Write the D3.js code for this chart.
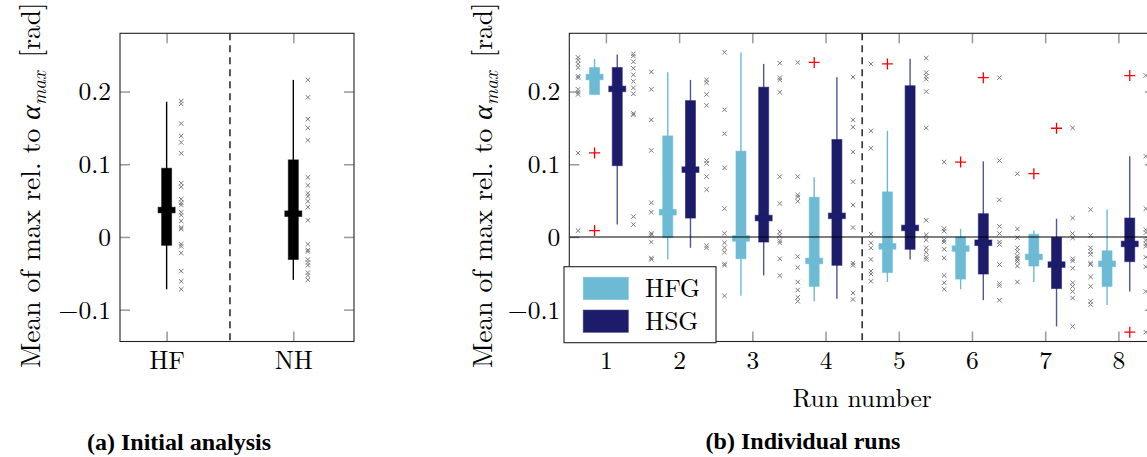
<!DOCTYPE html>
<html><head><meta charset="utf-8">
<script src="https://cdn.jsdelivr.net/npm/d3@7"></script>
<style>body{margin:0;background:#fff;}</style></head>
<body><svg id="c" width="1147" height="457"></svg>
<script>
// ---------- data: left panel ----------
const groups = ["HF", "NH"];
const groupLow  = [-0.072, -0.059];
const groupQ1   = [-0.0115, -0.031];
const groupMed  = [0.037, 0.032];
const groupQ3   = [0.0945, 0.106];
const groupHigh = [0.186, 0.216];
const groupPoints = [
  [0.187,0.183,0.156,0.139,0.130,0.115,0.074,0.069,0.052,0.047,0.044,0.034,0.030,0.022,0.013,0.011,-0.010,-0.013,-0.022,-0.047,-0.061,-0.072],
  [0.216,0.192,0.162,0.150,0.133,0.082,0.071,0.060,0.056,0.049,0.041,0.023,-0.010,-0.018,-0.020,-0.031,-0.035,-0.039,-0.049,-0.053,-0.059]
];
// ---------- data: right panel ----------
const runs = [1,2,3,4,5,6,7,8];
const hfgLow  = [0.195,-0.031,-0.081,-0.0885,-0.062,-0.072,-0.062,-0.0935];
const hfgQ1   = [0.196,-0.001,-0.030,-0.068,-0.049,-0.058,-0.040,-0.068];
const hfgMed  = [0.220,0.034,-0.002,-0.033,-0.013,-0.016,-0.0275,-0.037];
const hfgQ3   = [0.233,0.139,0.118,0.0546,0.062,0.0,0.0037,-0.019];
const hfgHigh = [0.245,0.2265,0.254,0.082,0.146,0.011,0.009,0.0376];
const hfgOutliers = [[0.1155,0.0087],[],[],[0.240],[0.238],[0.103],[0.087],[]];
const hfgPoints = [
  [0.247,0.243,0.238,0.233,0.221,0.219,0.203,0.199,0.196,0.1155,0.0087],
  [0.227,0.203,0.161,0.119,0.047,0.034,0.005,0.003,-0.007,-0.029,-0.031],
  [0.254,0.175,0.142,0.095,0.039,0.005,-0.008,-0.015,-0.021,-0.037,-0.039,-0.081],
  [0.240,0.083,0.058,0.055,0.049,-0.027,-0.042,-0.062,-0.073,-0.083,-0.0885],
  [0.238,0.146,0.122,0.004,-0.008,-0.015,-0.031,-0.047,-0.051,-0.061],
  [0.103,0.0115,0.008,-0.004,-0.007,-0.017,-0.029,-0.053,-0.063,-0.072],
  [0.087,0.011,-0.001,-0.015,-0.020,-0.026,-0.029,-0.031,-0.034,-0.040,-0.062],
  [0.0376,0.002,-0.015,-0.020,-0.024,-0.036,-0.038,-0.055,-0.068,-0.0885,-0.093]
];
const hsgLow  = [0.017,-0.015,-0.053,-0.085,-0.031,-0.087,-0.123,-0.075];
const hsgQ1   = [0.098,0.026,-0.007,-0.039,-0.017,-0.051,-0.071,-0.034];
const hsgMed  = [0.2036,0.0926,0.026,0.029,0.0124,-0.008,-0.038,-0.0096];
const hsgQ3   = [0.233,0.1875,0.206,0.134,0.208,0.032,-0.0005,0.026];
const hsgHigh = [0.251,0.216,0.238,0.2196,0.245,0.104,0.025,0.111];
const hsgOutliers = [[],[],[],[],[],[0.219],[0.1495],[0.222,-0.131]];
const hsgPoints = [
  [0.252,0.249,0.241,0.232,0.223,0.214,0.205,0.197,0.170,0.168,0.028,0.017],
  [0.216,0.212,0.196,0.181,0.105,0.101,0.083,0.065,-0.012,-0.015],
  [0.239,0.219,0.216,0.199,0.083,0.046,0.007,0.002,-0.005,-0.008,-0.030,-0.053],
  [0.220,0.161,0.151,0.117,0.076,0.044,0.013,-0.036,-0.039,-0.077,-0.086],
  [0.246,0.226,0.221,0.217,0.200,0.150,0.023,0.003,-0.004,-0.015,-0.021,-0.028,-0.031],
  [0.219,0.105,0.051,0.0147,0.0046,-0.007,-0.0105,-0.038,-0.064,-0.067,-0.087],
  [0.150,0.026,0.0046,-0.0014,-0.030,-0.033,-0.043,-0.063,-0.068,-0.075,-0.084,-0.123],
  [0.222,0.111,0.039,0.010,0.006,-0.0046,-0.0096,-0.013,-0.028,-0.041,-0.075,-0.131]
];
const seriesNames = ["HFG", "HSG"];
const yTicks = [-0.1, 0, 0.1, 0.2];
const yTickLabels = ["\u22120.1", "0", "0.1", "0.2"];
const captions = ["(a) Initial analysis", "(b) Individual runs"];

// ---------- styles ----------
const C_HFG = "#6dbad4", C_HSG = "#1c1c6b", C_PT = "#7a7a7a", C_TICK = "#9a9a9a";
const FS = 25.5, FS_LABEL = 27.5;
const FONT = '"Latin Modern Roman", "Liberation Serif", serif';
const GREEK = '"Liberation Serif", serif';
const CAPFONT = '"Liberation Serif", "Times New Roman", serif';

const svg = d3.select("#c");
const y = d3.scaleLinear().domain([-0.1438, 0.2801]).range([341.5, 33.3]);

function cross(g, cx, cy, col) {
  const s = 2.2;
  g.append("path").attr("d", `M${cx-s},${cy-s}L${cx+s},${cy+s}M${cx-s},${cy+s}L${cx+s},${cy-s}`)
    .attr("stroke", col).attr("stroke-width", 1).attr("fill", "none");
}
function plus(g, cx, cy) {
  const s = 5.5;
  g.append("path").attr("d", `M${cx-s},${cy}L${cx+s},${cy}M${cx},${cy-s}L${cx},${cy+s}`)
    .attr("stroke", "#ff0000").attr("stroke-width", 1.3).attr("fill", "none");
}
function box(g, cx, lo, q1, med, q3, hi, col, wOp) {
  g.append("line").attr("x1", cx).attr("x2", cx).attr("y1", y(lo)).attr("y2", y(hi))
    .attr("stroke", col).attr("stroke-width", 1.4).attr("stroke-opacity", wOp);
  g.append("rect").attr("x", cx-5).attr("width", 10).attr("y", y(q3)).attr("height", y(q1)-y(q3))
    .attr("fill", col).attr("stroke", col).attr("stroke-opacity", 0.55).attr("stroke-width", 1);
  g.append("rect").attr("x", cx-8.5).attr("width", 17).attr("y", y(med)-2.8).attr("height", 5.6)
    .attr("fill", col).attr("stroke", col).attr("stroke-opacity", 0.55).attr("stroke-width", 1);
}
function styleTicks(a) {
  a.select(".domain").remove();
  a.selectAll("line").attr("stroke", C_TICK).attr("stroke-width", 1.5);
  a.selectAll("text").style("font-family", FONT).attr("font-size", FS).attr("fill", "#000");
}
function frameTicks(g, x, xTickVals, x0, x1) {
  const y0 = y.range()[1];
  g.append("g").attr("transform", `translate(${x0},0)`)
    .call(d3.axisLeft(y).tickValues(yTicks).tickFormat((d,i)=>yTickLabels[i]).tickSizeInner(-10).tickSizeOuter(0).tickPadding(9))
    .call(styleTicks).call(a => a.selectAll("text").attr("dy", "0.33em"));
  g.append("g").attr("transform", `translate(${x1},0)`)
    .call(d3.axisRight(y).tickValues(yTicks).tickFormat("").tickSizeInner(-10).tickSizeOuter(0))
    .call(styleTicks);
  g.append("g").attr("transform", `translate(0,${y0})`)
    .call(d3.axisTop(x).tickValues(xTickVals).tickFormat("").tickSizeInner(-10).tickSizeOuter(0))
    .call(styleTicks);
}
function bottomAxis(g, x, vals, fmt) {
  const y1 = y.range()[0];
  g.append("g").attr("transform", `translate(0,${y1})`)
    .call(d3.axisBottom(x).tickValues(vals).tickFormat(fmt).tickSizeInner(-10).tickSizeOuter(0).tickPadding(9))
    .call(styleTicks).call(a => a.selectAll("text").attr("dy", "0.71em"));
}
function yLabel(g, bx) {
  const t = g.append("text").attr("transform", `translate(${bx},368) rotate(-90)`)
    .style("font-family", FONT).attr("font-size", FS_LABEL).attr("fill", "#000");
  t.append("tspan").text("Mean of max rel. to ");
  t.append("tspan").style("font-family", GREEK).attr("font-style", "italic").text("\u03b1");
  t.append("tspan").attr("font-style", "italic").attr("font-size", 19).attr("dy", 6).text("max");
  t.append("tspan").attr("dy", -6).text("\u2002[rad]");
}

// ================= LEFT PANEL =================
const xL = d3.scaleLinear().domain([0.632, 2.479]).range([120, 354]);
const gL = svg.append("g");
frameTicks(gL, xL, [1, 2], 120, 354);
bottomAxis(gL, xL, [1, 2], (d) => groups[d-1]);
groups.forEach((gname, i) => {
  const cx = xL(i+1);
  groupPoints[i].forEach(v => cross(gL, xL(i+1.115), y(v), C_PT));
  box(gL, cx, groupLow[i], groupQ1[i], groupMed[i], groupQ3[i], groupHigh[i], "#000", 1);
});
gL.append("line").attr("x1", xL(1.5)).attr("x2", xL(1.5)).attr("y1", y.range()[1]).attr("y2", y.range()[0])
  .attr("stroke", "#000").attr("stroke-width", 1.3).attr("stroke-dasharray", "7,5");
gL.append("rect").attr("x", 120).attr("y", y.range()[1]).attr("width", 234).attr("height", y.range()[0]-y.range()[1])
  .attr("fill", "none").attr("stroke", "#222").attr("stroke-width", 1.1);
yLabel(gL, 40);

// ================= RIGHT PANEL =================
const xR = d3.scaleLinear().domain([0.5, 8.5]).range([569.3, 1155]);
const gR = svg.append("g");
frameTicks(gR, xR, runs, 569.3, 1155);
bottomAxis(gR, xR, runs, d3.format("d"));
runs.forEach((r, i) => {
  hfgPoints[i].forEach(v => cross(gR, xR(r-0.38), y(v), C_PT));
  hsgPoints[i].forEach(v => cross(gR, xR(r+0.375), y(v), C_PT));
  box(gR, xR(r-0.155), hfgLow[i], hfgQ1[i], hfgMed[i], hfgQ3[i], hfgHigh[i], C_HFG, 1);
  box(gR, xR(r+0.155), hsgLow[i], hsgQ1[i], hsgMed[i], hsgQ3[i], hsgHigh[i], C_HSG, 0.75);
  hfgOutliers[i].forEach(v => plus(gR, xR(r-0.155), y(v)));
  hsgOutliers[i].forEach(v => plus(gR, xR(r+0.155), y(v)));
});
gR.append("line").attr("x1", xR.range()[0]).attr("x2", xR.range()[1]).attr("y1", y(0)).attr("y2", y(0))
  .attr("stroke", "#000").attr("stroke-width", 1.1);
gR.append("line").attr("x1", xR(4.5)).attr("x2", xR(4.5)).attr("y1", y.range()[1]).attr("y2", y.range()[0])
  .attr("stroke", "#000").attr("stroke-width", 1.3).attr("stroke-dasharray", "7,5");
gR.append("rect").attr("x", 569.3).attr("y", y.range()[1]).attr("width", 1155-569.3).attr("height", y.range()[0]-y.range()[1])
  .attr("fill", "none").attr("stroke", "#222").attr("stroke-width", 1.1);
yLabel(gR, 492);
gR.append("text").attr("x", xR(4.5)).attr("y", 406.5).attr("text-anchor", "middle")
  .style("font-family", FONT).attr("font-size", FS).text("Run number");

// legend
const lg = gR.append("g");
lg.append("rect").attr("x", 564).attr("y", 266.7).attr("width", 152).attr("height", 76)
  .attr("fill", "#fff").attr("stroke", "#222").attr("stroke-width", 1.1);
[C_HFG, C_HSG].forEach((col, i) => {
  const yy = 277.3 + i*32.8;
  lg.append("rect").attr("x", 583.3).attr("y", yy).attr("width", 45).attr("height", 22.2)
    .attr("fill", col).attr("stroke", col).attr("stroke-opacity", 0.55);
  lg.append("text").attr("x", 645).attr("y", yy + 19.8).style("font-family", FONT)
    .attr("font-size", FS).attr("fill", "#000").text(seriesNames[i]);
});

// captions
[[179, 450], [803, 449]].forEach((p, i) => {
  svg.append("text").attr("x", p[0]).attr("y", p[1]).attr("text-anchor", "middle")
    .style("font-family", CAPFONT).attr("font-size", 24).attr("font-weight", "bold")
    .text(captions[i]);
});
</script></body></html>
